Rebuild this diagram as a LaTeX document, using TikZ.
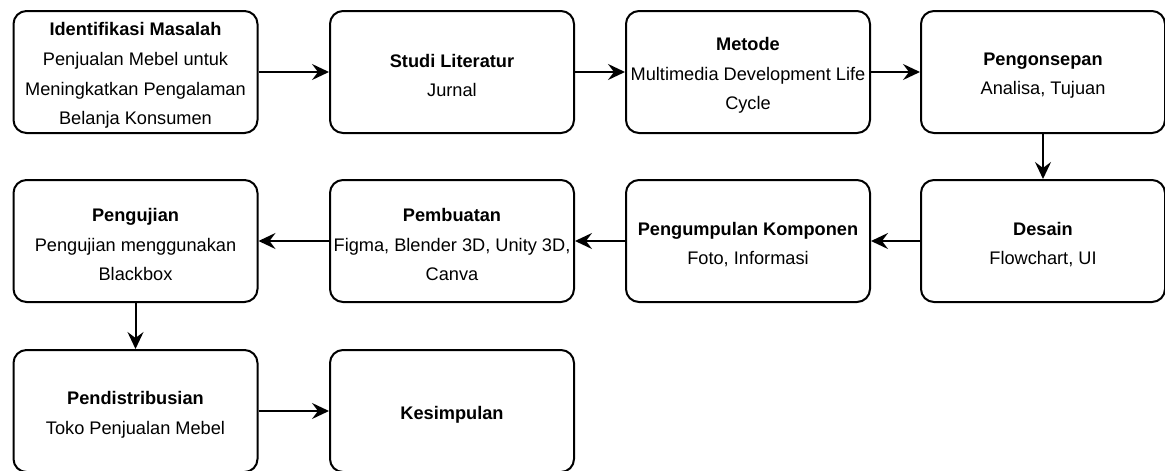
\documentclass[tikz,border=0pt]{standalone}
\usepackage{fontspec}
\setmainfont{Liberation Sans}
\usetikzlibrary{arrows.meta}
\begin{document}
\begin{tikzpicture}[x=1pt,y=-1pt,
  box/.style={draw=black,line width=2pt,rounded corners=13pt,fill=white,
    minimum width=244pt,minimum height=122pt,inner sep=0pt},
  txt/.style={align=center,inner sep=0pt,yshift=-3.5pt,
    font=\fontsize{18.2}{29.7}\selectfont},
  arr/.style={line width=2pt,-{Stealth[length=17pt,width=16pt,inset=6pt]}}]
\useasboundingbox (0,0) rectangle (1165,471);
\node[box,label={[txt]center:{\textbf{Identifikasi Masalah}\\Penjualan Mebel untuk\\Meningkatkan Pengalaman\\Belanja Konsumen}}] (b1) at (135.5,72) {};
\node[box,label={[txt]center:{\textbf{Studi Literatur}\\Jurnal}}] (b2) at (452,72) {};
\node[box,label={[txt]center:{\textbf{Metode}\\Multimedia Development Life\\Cycle}}] (b3) at (748,72) {};
\node[box,label={[txt]center:{\textbf{Pengonsepan}\\Analisa, Tujuan}}] (b4) at (1043,72) {};
\node[box,label={[txt]center:{\textbf{Desain}\\Flowchart, UI}}] (b5) at (1043,241) {};
\node[box,label={[txt]center:{\textbf{Pengumpulan Komponen}\\Foto, Informasi}}] (b6) at (748,241) {};
\node[box,label={[txt]center:{\textbf{Pembuatan}\\Figma, Blender 3D, Unity 3D,\\Canva}}] (b7) at (452,241) {};
\node[box,label={[txt]center:{\textbf{Pengujian}\\Pengujian menggunakan\\Blackbox}}] (b8) at (135.5,241) {};
\node[box,label={[txt]center:{\textbf{Pendistribusian}\\Toko Penjualan Mebel}}] (b9) at (135.5,411) {};
\node[box,label={[txt]center:{\textbf{Kesimpulan}}}] (b10) at (452,411) {};
\draw[arr] (b1) -- (b2);
\draw[arr] (b2) -- (b3);
\draw[arr] (b3) -- (b4);
\draw[arr] (b4) -- (b5);
\draw[arr] (b5) -- (b6);
\draw[arr] (b6) -- (b7);
\draw[arr] (b7) -- (b8);
\draw[arr] (b8) -- (b9);
\draw[arr] (b9) -- (b10);
\end{tikzpicture}
\end{document}
